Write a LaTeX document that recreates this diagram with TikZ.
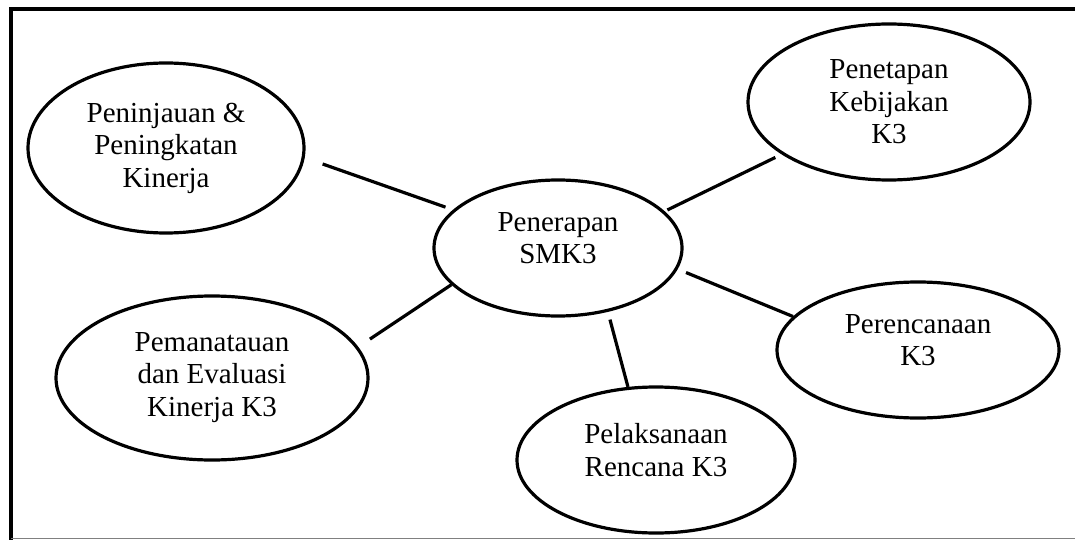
\documentclass[tikz,border=0pt]{standalone}
\usepackage{fontspec}
\setmainfont{Liberation Serif}
\usetikzlibrary{shapes.geometric}

\begin{document}
\begin{tikzpicture}[x=1pt, y=-1pt,
	bubble/.style={ellipse, draw, line width=3.2pt, align=center, inner sep=0pt, font=\fontsize{29}{32.5}\selectfont},
	lift/.style={text depth=20pt},
	link/.style={line width=3.2pt}]

						\useasboundingbox (0,0) rectangle (1075,540);

						\draw[line width=4pt] (11,540)--(11,9.5)--(1075,9.5);
						\draw[line width=1.5pt, gray] (11,538.5)--(1075,538.5);

						\node[bubble, minimum width=276pt, minimum height=170pt] (tinjau) at (166,148) {Peninjauan \&\\Peningkatan\\Kinerja};
						\node[bubble, minimum width=282pt, minimum height=156pt] (tetap) at (889,102) {Penetapan\\Kebijakan\\K3};
						\node[bubble, lift, minimum width=248pt, minimum height=136pt] (terap) at (558,248) {Penerapan\\SMK3};
						\node[bubble, text depth=7pt, minimum width=312pt, minimum height=164pt] (pantau) at (212,378) {Pemanatauan\\dan Evaluasi\\Kinerja K3};
						\node[bubble, lift, minimum width=282pt, minimum height=136pt] (rencana) at (918,350) {Perencanaan\\K3};
						\node[bubble, lift, minimum width=278pt, minimum height=146pt] (laksana) at (656,460) {Pelaksanaan\\Rencana K3};

						\draw[link, shorten <=19pt, shorten >=8pt] (tinjau.-4)--(terap.160);
						\draw[link, shorten <=3pt, shorten >=7pt] (terap.19)--(tetap.206);
						\draw[link, shorten <=9pt] (terap.-10)--(rencana.165);
						\draw[link, shorten <=8pt] (terap.-52)--(laksana.111);
						\draw[link, shorten >=14pt] (terap.199)--(pantau.12);
					\end{tikzpicture}
\end{document}
